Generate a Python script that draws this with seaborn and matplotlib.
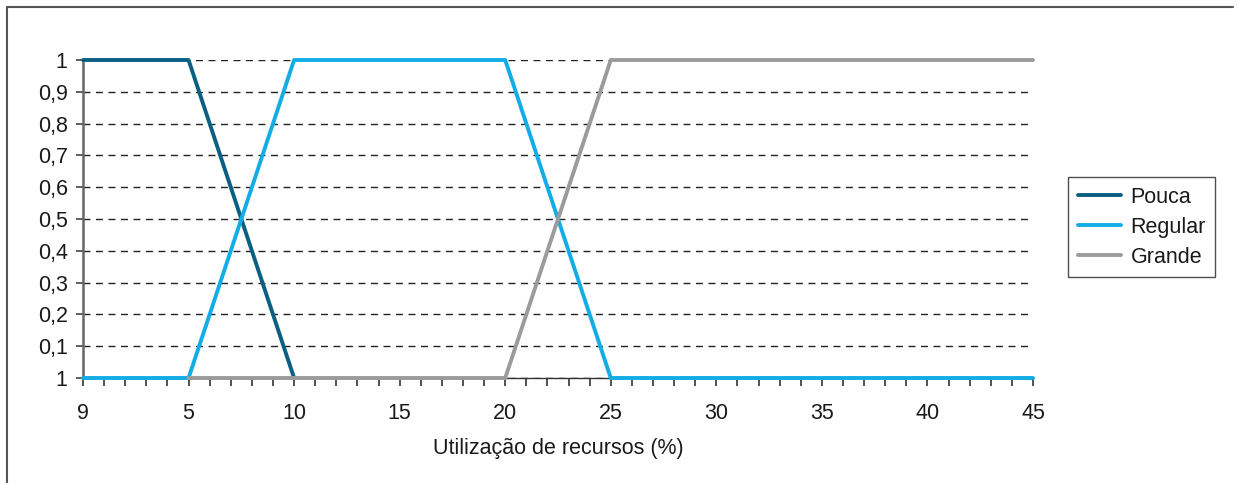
import matplotlib
matplotlib.use("Agg")
import matplotlib.pyplot as plt
import seaborn as sns
import pandas as pd
import numpy as np
from matplotlib.lines import Line2D

# Data
x_values = [0, 5, 10, 15, 20, 25, 30, 35, 40, 45]
pouca = [1, 1, 0, np.nan, np.nan, np.nan, np.nan, np.nan, np.nan, np.nan]
regular = [0, 0, 1, 1, 1, 0, 0, 0, 0, 0]
grande = [np.nan, 0, 0, 0, 0, 1, 1, 1, 1, 1]
x_tick_labels = ["9", "5", "10", "15", "20", "25", "30", "35", "40", "45"]
y_ticks = [0, 0.1, 0.2, 0.3, 0.4, 0.5, 0.6, 0.7, 0.8, 0.9, 1.0]
y_tick_labels = ["1", "0,1", "0,2", "0,3", "0,4", "0,5", "0,6", "0,7", "0,8", "0,9", "1"]
series_names = ["Pouca", "Regular", "Grande"]
colors = {"Pouca": "#0b5f82", "Regular": "#12ade6", "Grande": "#9b9b9b"}

sns.set_style("white")
plt.rcParams["font.family"] = ["Liberation Sans", "DejaVu Sans"]

fig = plt.figure(figsize=(12.38, 4.83), dpi=100)
ax = fig.add_axes([83 / 1238, 1 - 378 / 483, (1033 - 83) / 1238, (378 - 60) / 483])

df = pd.DataFrame({"x": x_values * 3,
                   "y": pouca + regular + grande,
                   "s": ["Pouca"] * 10 + ["Regular"] * 10 + ["Grande"] * 10}).dropna()

zorders = {"Pouca": 3, "Regular": 4, "Grande": 5}
for name in series_names:
    sub = df[df["s"] == name]
    sns.lineplot(data=sub, x="x", y="y", ax=ax, color=colors[name], linewidth=2.8,
                 zorder=zorders[name], clip_on=False, legend=False)

ax.set_xlim(0, 45)
ax.set_ylim(0, 1)
ax.set_xticks(x_values)
ax.set_xticklabels(x_tick_labels, fontsize=15.5, color="#1a1a1a")
ax.set_xticks(range(0, 46), minor=True)
ax.set_yticks(y_ticks)
ax.set_yticklabels(y_tick_labels, fontsize=15.5, color="#1a1a1a")
ax.tick_params(axis="x", which="both", direction="out", length=6, width=1.2,
               color="#333333", bottom=True, pad=12)
ax.tick_params(axis="y", which="major", direction="out", length=5, width=1.2,
               color="#444444", left=True, pad=6)

ax.yaxis.grid(True, linestyle=(0, (5, 4)), color="#222222", linewidth=1.0)
ax.xaxis.grid(False)
ax.set_axisbelow(True)

for side in ["top", "right"]:
    ax.spines[side].set_visible(False)
ax.spines["left"].set_color("#666666")
ax.spines["left"].set_linewidth(1.8)
ax.spines["bottom"].set_color("#333333")
ax.spines["bottom"].set_linewidth(1.0)

ax.set_xlabel("Utilização de recursos (%)", fontsize=15.5, color="#1a1a1a", labelpad=10)
ax.set_ylabel("")

handles = [Line2D([0], [0], color=colors[n], linewidth=2.8) for n in series_names]
leg = fig.legend(handles, series_names, loc="upper left",
                 bbox_to_anchor=(1068 / 1238, 1 - 177 / 483), fontsize=15.5,
                 frameon=True, fancybox=False, edgecolor="#222222", handlelength=2.0,
                 borderpad=0.45, labelspacing=0.42, handletextpad=0.45, borderaxespad=0)
leg.get_frame().set_linewidth(1.0)
for t in leg.get_texts():
    t.set_color("#1a1a1a")

# figure border (top and left)
fig.add_artist(Line2D([7 / 1238, 1233 / 1238], [1 - 7 / 483, 1 - 7 / 483],
                      transform=fig.transFigure, color="#555555", linewidth=1.5))
fig.add_artist(Line2D([7 / 1238, 7 / 1238], [1 - 7 / 483, 0],
                      transform=fig.transFigure, color="#555555", linewidth=1.5))

fig.savefig("out.png", dpi=100)
